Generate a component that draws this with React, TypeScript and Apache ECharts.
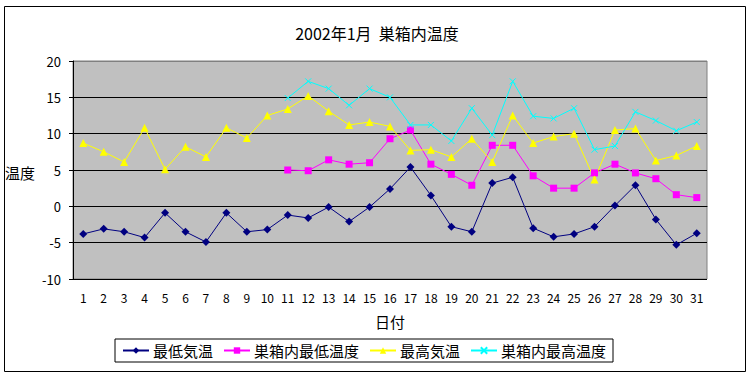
import React, { useEffect, useRef } from "react";
import * as echarts from "echarts";

const days = Array.from({ length: 31 }, (_, i) => String(i + 1));
const minAir = [-3.8, -3.1, -3.5, -4.3, -0.9, -3.5, -4.9, -0.9, -3.5, -3.2, -1.2, -1.6, -0.1, -2.1, -0.1, 2.4, 5.4, 1.5, -2.8, -3.5, 3.2, 4.0, -3.0, -4.2, -3.8, -2.8, 0.1, 2.9, -1.8, -5.3, -3.7];
const minHive = [null, null, null, null, null, null, null, null, null, null, 5.0, 4.9, 6.4, 5.8, 6.0, 9.3, 10.5, 5.8, 4.4, 2.9, 8.4, 8.4, 4.2, 2.5, 2.5, 4.6, 5.8, 4.6, 3.8, 1.6, 1.2];
const maxAir = [8.7, 7.5, 6.1, 10.8, 5.1, 8.2, 6.8, 10.8, 9.4, 12.5, 13.4, 15.2, 13.1, 11.2, 11.6, 11.0, 7.7, 7.8, 6.8, 9.3, 6.1, 12.5, 8.7, 9.6, 10.0, 3.7, 10.5, 10.7, 6.3, 7.0, 8.3];
const maxHive = [null, null, null, null, null, null, null, null, null, null, 14.9, 17.2, 16.2, 13.9, 16.2, 15.0, 11.2, 11.2, 9.0, 13.5, 9.8, 17.2, 12.4, 12.1, 13.5, 7.8, 8.3, 13.0, 11.8, 10.4, 11.6];
const seriesNames = ["最低気温", "巣箱内最低温度", "最高気温", "巣箱内最高温度"];
const yTicks = { min: -10, max: 20, interval: 5 };

const FONT = "'Noto Sans CJK JP', sans-serif";

export default function App() {
  const ref = useRef<HTMLDivElement>(null);
  useEffect(() => {
    if (!ref.current) return;
    const chart = echarts.init(ref.current, null, { renderer: "svg" });
    const mk = (name: string, data: any[], color: string, symbol: string, size: number, extra: any = {}) => ({
      name,
      type: "line",
      data,
      symbol,
      symbolSize: size,
      showSymbol: true,
      connectNulls: false,
      lineStyle: { color, width: 1 },
      itemStyle: { color, borderColor: color, borderWidth: extra.borderWidth ?? 0 },
      emphasis: { disabled: true },
      z: extra.z ?? 2,
    });
    chart.setOption({
      animation: false,
      backgroundColor: "#ffffff",
      textStyle: { fontFamily: FONT, color: "#000" },
      title: {
        text: "2002年1月  巣箱内温度",
        left: "center",
        top: 20,
        textStyle: { fontSize: 16, fontWeight: "normal", color: "#000", fontFamily: FONT },
      },
      graphic: [
        { type: "rect", shape: { x: 4.5, y: 6.5, width: 741, height: 365 }, style: { fill: "none", stroke: "#000", lineWidth: 1 }, silent: true },
        { type: "text", x: 20, y: 172, style: { text: "温度", fontSize: 15, fontFamily: FONT, fill: "#000", align: "center", verticalAlign: "middle" } },
        { type: "text", x: 390, y: 321, style: { text: "日付", fontSize: 15, fontFamily: FONT, fill: "#000", align: "center", verticalAlign: "middle" } },
      ],
      legend: {
        data: seriesNames,
        left: 115,
        top: 339,
        width: 504,
        padding: [4, 7, 4, 7],
        itemGap: 10,
        itemWidth: 26,
        itemHeight: 8,
        borderColor: "#000",
        borderWidth: 1,
        textStyle: { fontSize: 15, color: "#000", fontFamily: FONT, padding: [0, 0, 0, -1] },
      },
      grid: {
        left: 73,
        right: 47,
        top: 61,
        bottom: 99,
        show: true,
        backgroundColor: "#C0C0C0",
        borderColor: "#808080",
        borderWidth: 1,
        containLabel: false,
      },
      xAxis: {
        type: "category",
        data: days,
        boundaryGap: true,
        axisLine: { lineStyle: { color: "#000", width: 1 } },
        axisTick: { show: false },
        axisLabel: { fontSize: 12, color: "#000", margin: 12, fontFamily: FONT, interval: 0 },
        splitLine: { show: false },
      },
      yAxis: {
        type: "value",
        min: yTicks.min,
        max: yTicks.max,
        interval: yTicks.interval,
        axisLine: { show: true, lineStyle: { color: "#000", width: 1 } },
        axisTick: { show: true, length: 4, lineStyle: { color: "#000" } },
        axisLabel: { fontSize: 13, color: "#000", margin: 12, fontFamily: FONT },
        splitLine: {
          show: true,
          lineStyle: { color: ["#000", "#000", "#000", "#000", "#000", "#000", "#808080"], width: 1 },
        },
      },
      series: [
        mk(seriesNames[0], minAir, "#000080", "diamond", 8),
        mk(seriesNames[1], minHive, "#FF00FF", "rect", 7),
        mk(seriesNames[2], maxAir, "#FFFF00", "triangle", 8),
        mk(seriesNames[3], maxHive, "#00FFFF", "path://M0,0L10,10M10,0L0,10", 6, { borderWidth: 1 }),
      ],
    });
    return () => chart.dispose();
  }, []);
  return <div ref={ref} style={{ position: "fixed", left: 0, top: 0, width: 754, height: 378 }} />;
}
